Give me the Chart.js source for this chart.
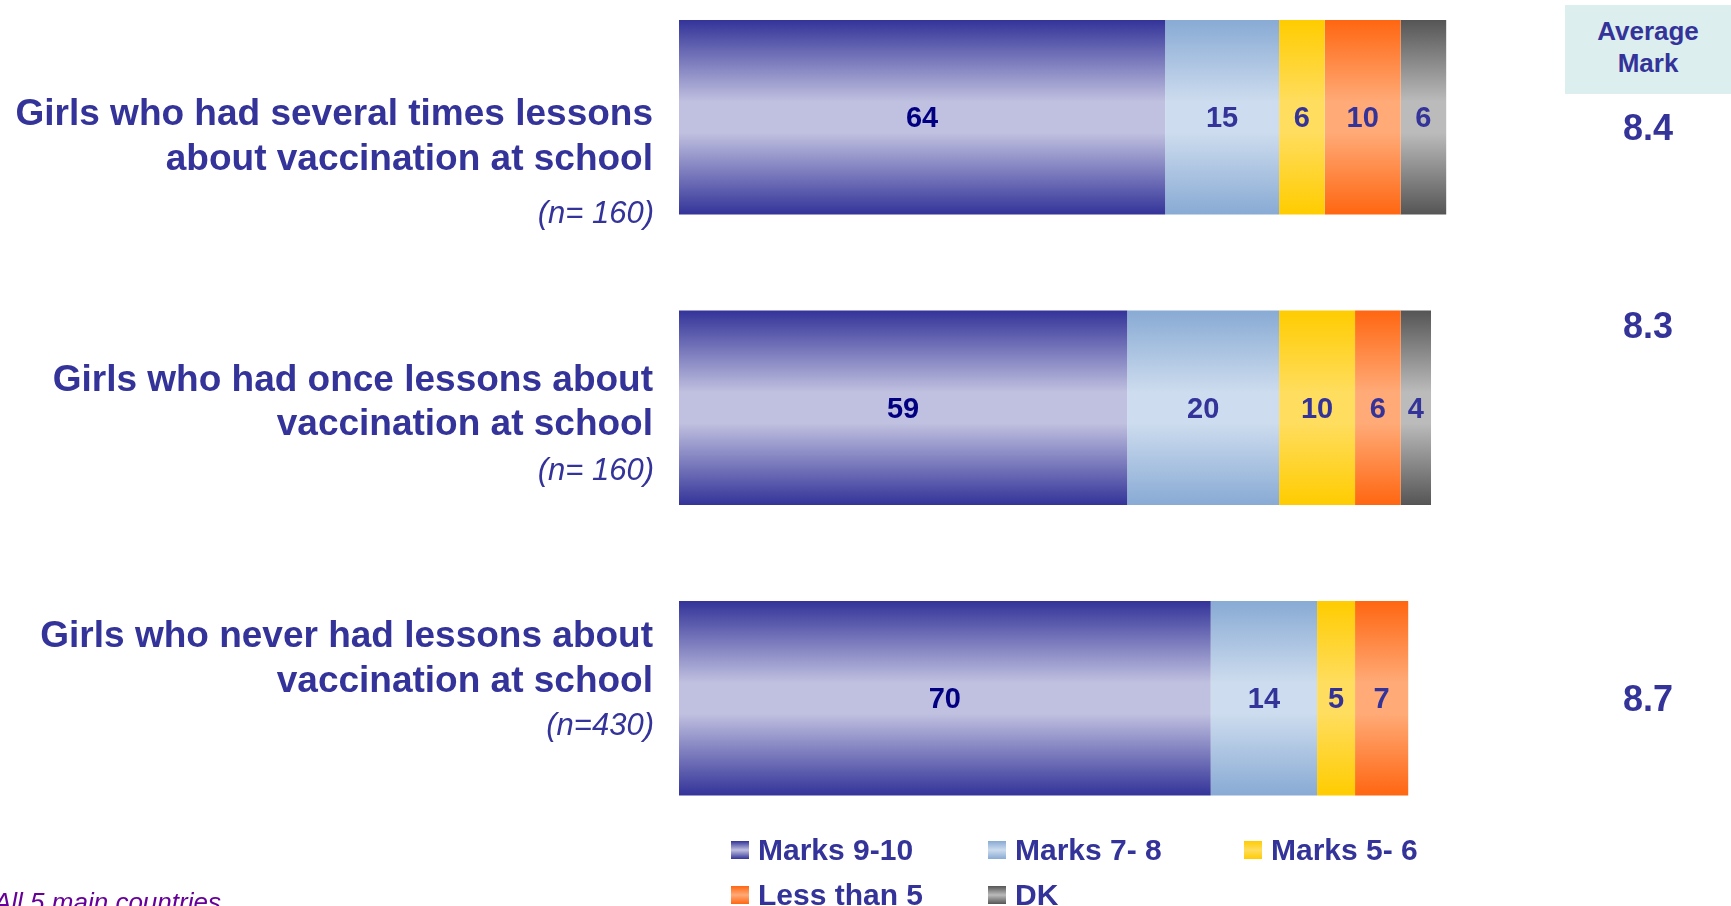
<!DOCTYPE html>
<html>
<head>
<meta charset="utf-8">
<script src="https://cdn.jsdelivr.net/npm/chart.js@4.4.0/dist/chart.umd.min.js"></script>
<style>
  html, body { margin: 0; padding: 0; background: #fff; overflow: hidden; width: 1731px; height: 906px; }
  body { position: relative; font-family: "Liberation Sans", Arial, sans-serif; color: #333399; }
  #wrap { position: absolute; left: 0; top: -28px; width: 1731px; height: 934px; }
  #avgHead { position: absolute; left: 1565px; top: 5px; width: 166px; height: 89px; background: #ddeeee;
             text-align: center; font-weight: bold; font-size: 26px; line-height: 32px; box-sizing: border-box; padding-top: 10px; }
  #legend { position: absolute; left: 731px; top: 827px; display: grid; grid-template-columns: 257px 256px 256px; grid-auto-rows: 45px; }
  #legend .item { display: flex; align-items: center; font-weight: bold; font-size: 30px; white-space: nowrap; }
  #legend .sw { width: 18px; height: 18px; margin-right: 9px; flex: none; }
  #note { position: absolute; left: -6px; top: 889px; font-style: italic; font-size: 26px; line-height: 26px; color: #660099; white-space: nowrap; }
</style>
</head>
<body>
<div id="wrap"><canvas id="marks"></canvas></div>
<div id="avgHead">Average<br>Mark</div>
<div id="legend"></div>
<div id="note">All 5 main countries</div>
<script>
// data
const categories = [
  ["Girls who had several times lessons", "about vaccination at school"],
  ["Girls who had once lessons about", "vaccination at school"],
  ["Girls who never had lessons about", "vaccination at school"]
];
const sampleSizes = ["(n= 160)", "(n= 160)", "(n=430)"];
const seriesNames = ["Marks 9-10", "Marks 7- 8", "Marks 5- 6", "Less than 5", "DK"];
const marks910 = [64, 59, 70];
const marks78 = [15, 20, 14];
const marks56 = [6, 10, 5];
const lessThan5 = [10, 6, 7];
const dontKnow = [6, 4, null];
const averageMarks = [8.4, 8.3, 8.7];

// colours: edge / middle of each gradient
const edgeColors = ["#333399", "#88aad4", "#ffcc00", "#ff6611", "#555555"];
const midColors = ["#c0c0e0", "#cddcee", "#ffdd5e", "#ffaa77", "#bbbbbb"];
const BAR_PCT = 0.67;

// text placement around each bar centre
const labelTop = [8, -17, -51];
const noteDrop = [53, 45, 43];
const markShift = [23, -70, 13];

function barFill(i) {
  return function (c) {
    const ys = c.chart.scales && c.chart.scales.y;
    if (!ys || c.type !== 'data') return edgeColors[i];
    const yc = ys.getPixelForValue(c.dataIndex);
    const half = ys.height / categories.length * BAR_PCT / 2;
    if (!isFinite(yc) || !isFinite(half) || half <= 0) return edgeColors[i];
    const g = c.chart.ctx.createLinearGradient(0, yc - half, 0, yc + half);
    g.addColorStop(0, edgeColors[i]);
    g.addColorStop(0.42, midColors[i]);
    g.addColorStop(0.58, midColors[i]);
    g.addColorStop(1, edgeColors[i]);
    return g;
  };
}

const valueLabels = {
  id: 'valueLabels',
  afterDatasetsDraw(chart) {
    const ctx = chart.ctx;
    ctx.save();
    ctx.font = 'bold 29px "Liberation Sans", Arial, sans-serif';
    ctx.textAlign = 'center';
    ctx.textBaseline = 'alphabetic';
    chart.data.datasets.forEach((ds, i) => {
      chart.getDatasetMeta(i).data.forEach((bar, j) => {
        const v = ds.data[j];
        if (v == null) return;
        ctx.fillStyle = i === 0 ? '#000080' : '#333399';
        ctx.fillText(v, (bar.x + bar.base) / 2, bar.y + 10);
      });
    });
    ctx.restore();
  }
};

const sideText = {
  id: 'sideText',
  afterDraw(chart) {
    const ctx = chart.ctx, ys = chart.scales.y;
    ctx.save();
    ctx.fillStyle = '#333399';
    categories.forEach((lines, i) => {
      const yc = ys.getPixelForValue(i);
      const y = yc + labelTop[i];
      ctx.textAlign = 'right';
      ctx.font = 'bold 37px "Liberation Sans", Arial, sans-serif';
      lines.forEach((t, k) => ctx.fillText(t, 653, y + k * 44.5));
      ctx.font = 'italic 31px "Liberation Sans", Arial, sans-serif';
      ctx.fillText(sampleSizes[i], 654, y + 44.5 + noteDrop[i]);
      ctx.textAlign = 'center';
      ctx.font = 'bold 36px "Liberation Sans", Arial, sans-serif';
      ctx.fillText(averageMarks[i].toFixed(1), 1648, yc + markShift[i]);
    });
    ctx.restore();
  }
};

const series = [marks910, marks78, marks56, lessThan5, dontKnow];

new Chart(document.getElementById('marks').getContext('2d'), {
  type: 'bar',
  data: {
    labels: categories.map(c => c.join(' ')),
    datasets: series.map((d, i) => ({
      label: seriesNames[i],
      data: d,
      backgroundColor: barFill(i),
      borderWidth: 0,
      barPercentage: BAR_PCT,
      categoryPercentage: 1
    }))
  },
  options: {
    indexAxis: 'y',
    responsive: true,
    maintainAspectRatio: false,
    animation: false,
    layout: { padding: { left: 679, right: 281, top: 0, bottom: 62.5 } },
    scales: {
      x: { stacked: true, min: 0, max: 101.5, display: false },
      y: { stacked: true, display: false }
    },
    plugins: { legend: { display: false }, tooltip: { enabled: false } }
  },
  plugins: [valueLabels, sideText]
});

// html legend
const legend = document.getElementById('legend');
seriesNames.forEach((name, i) => {
  const item = document.createElement('div');
  item.className = 'item';
  const sw = document.createElement('span');
  sw.className = 'sw';
  sw.style.background = 'linear-gradient(to bottom,' + edgeColors[i] + ',' + midColors[i] + ',' + edgeColors[i] + ')';
  item.appendChild(sw);
  item.appendChild(document.createTextNode(name));
  legend.appendChild(item);
});
</script>
</body>
</html>
